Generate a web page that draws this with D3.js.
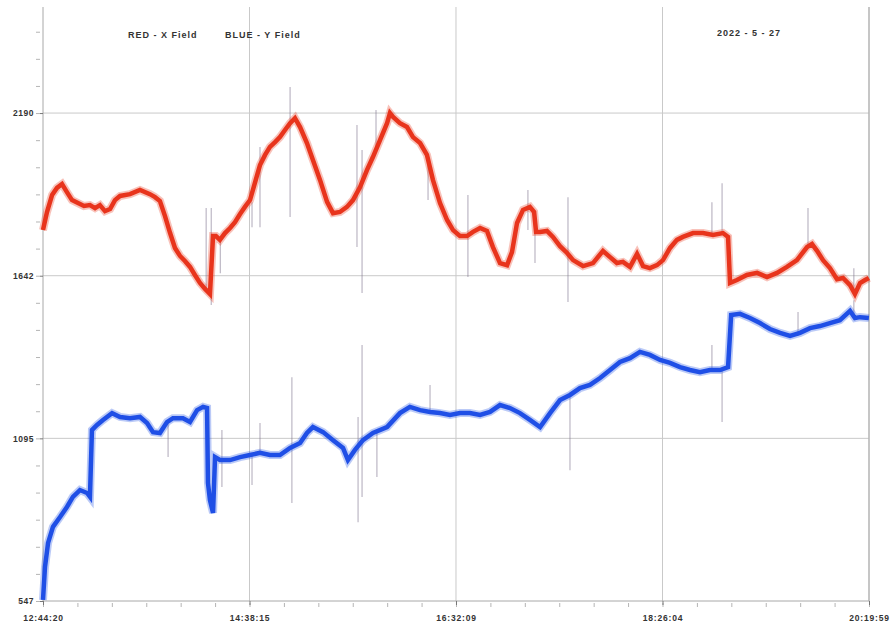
<!DOCTYPE html>
<html>
<head>
<meta charset="utf-8">
<script src="https://cdn.jsdelivr.net/npm/d3@7"></script>
<style>
  html, body { margin: 0; padding: 0; background: #fff; }
  svg { display: block; }
</style>
</head>
<body>
<svg id="chart" width="894" height="631"></svg>
<script>
// ---------- DATA ----------
const xTickLabels = ["12:44:20", "14:38:15", "16:32:09", "18:26:04", "20:19:59"];
const yTickValues = [547.5, 1095, 1642.5, 2190];
const yTickLabels = ["547", "1095", "1642", "2190"];
const legendTexts = ["RED - X Field", "BLUE - Y Field"];
const dateText = "2022 - 5 - 27";

// [elapsed minutes since 12:44:20, value]
const redSeries = [
  [0,1796],[2.2,1857],[5.0,1914],[7.7,1938],[10.5,1951],[13.2,1924],[16.0,1897],[19.3,1887],
  [22.6,1877],[25.9,1880],[28.7,1870],[31.4,1880],[34.2,1860],[37.0,1867],[39.7,1897],[42.5,1911],
  [48.0,1917],[53.5,1931],[59.0,1917],[61.8,1907],[64.5,1894],[67.3,1843],[70.1,1786],[72.8,1736],
  [75.6,1709],[78.3,1692],[81.1,1672],[83.8,1645],[86.6,1618],[89.4,1598],[92.1,1581],[93.8,1776],
  [95.4,1776],[97.6,1763],[100.4,1786],[103.2,1803],[105.9,1823],[108.7,1850],[111.4,1874],[114.2,1897],
  [116.9,1955],[119.7,2015],[122.5,2049],[125.2,2076],[128.0,2092],[130.7,2109],[133.5,2133],[136.3,2156],
  [139.0,2173],[141.8,2143],[145.6,2089],[148.9,2032],[152.8,1965],[156.7,1891],[160.0,1853],[163.8,1857],
  [167.7,1874],[171.0,1897],[174.9,1941],[178.7,1998],[182.0,2042],[185.9,2099],[189.8,2156],[191.4,2190],
  [193.1,2177],[196.9,2156],[200.8,2143],[204.1,2109],[208.0,2089],[211.8,2049],[215.1,1965],[219.0,1887],
  [222.9,1830],[226.2,1796],[230.0,1776],[233.9,1776],[237.2,1790],[241.1,1803],[244.9,1793],[248.2,1739],
  [252.1,1685],[256.0,1678],[258.7,1722],[261.5,1820],[264.8,1864],[268.6,1874],[270.9,1857],[272.0,1790],
  [274.2,1790],[278.0,1793],[281.3,1773],[285.2,1742],[289.1,1719],[292.4,1695],[297.9,1675],[303.4,1685],
  [308.9,1726],[312.8,1705],[316.6,1685],[319.9,1689],[323.8,1672],[327.7,1716],[331.0,1675],[334.8,1668],
  [338.7,1678],[342.0,1695],[345.9,1736],[349.7,1763],[353.0,1773],[358.6,1786],[364.1,1786],[369.6,1780],
  [375.1,1786],[377.9,1773],[379.0,1618],[382.8,1628],[388.3,1645],[393.9,1652],[399.4,1638],[404.9,1652],
  [410.4,1672],[415.9,1695],[421.5,1739],[424.2,1749],[427.0,1726],[430.3,1695],[434.1,1668],[438.0,1631],
  [441.3,1635],[445.2,1611],[447.9,1581],[450.7,1618],[453.5,1628],[455.6,1635]
];

const blueSeries = [
  [0,551],[1.1,662],[2.8,743],[5.5,797],[9.4,830],[13.2,864],[16.5,898],[20.4,921],[24.3,911],[25.9,898],
  [27.0,1123],[29.8,1140],[33.1,1157],[38.1,1180],[42.5,1167],[48.0,1163],[53.5,1167],[57.4,1147],[60.7,1116],
  [64.5,1113],[68.4,1150],[71.7,1163],[77.2,1163],[81.1,1150],[85.0,1190],[88.3,1201],[90.5,1197],[91.0,945],
  [92.1,887],[93.8,844],[94.9,1032],[97.6,1022],[103.2,1022],[108.7,1032],[114.2,1039],[119.7,1046],[125.2,1039],
  [130.7,1039],[136.3,1063],[141.8,1079],[145.6,1113],[148.9,1133],[154.5,1116],[160.0,1089],[165.5,1063],
  [168.2,1022],[172.1,1056],[176.5,1089],[182.0,1113],[189.8,1133],[196.9,1180],[202.4,1201],[208.0,1190],
  [213.5,1184],[219.0,1180],[224.5,1174],[230.0,1180],[235.5,1180],[241.1,1174],[246.6,1184],[252.1,1207],
  [257.6,1197],[263.1,1180],[268.6,1157],[274.2,1133],[279.7,1180],[285.2,1224],[290.7,1241],[296.2,1264],
  [301.7,1275],[307.3,1298],[312.8,1325],[318.3,1352],[323.8,1365],[329.3,1386],[334.8,1376],[340.4,1359],
  [345.9,1349],[351.4,1335],[356.9,1325],[362.4,1318],[367.9,1325],[373.5,1325],[377.9,1335],[379.6,1510],
  [384.5,1514],[390.0,1500],[395.5,1483],[401.0,1463],[406.6,1450],[412.1,1440],[417.6,1450],[423.1,1466],
  [428.6,1473],[434.1,1483],[439.6,1493],[445.2,1524],[447.9,1500],[450.7,1503],[455.6,1500]
];

// [elapsed minutes, low value, high value]
const redSpikes = [
  [90.0,1590,1870],[92.8,1544,1870],[97.8,1651,1760],[115.3,1806,1890],[119.7,1806,2076],
  [136.3,1840,2278],[173.2,1739,2150],[176.0,1584,2066],[183.7,2066,2200],[212.4,1897,2049],
  [234.4,1638,1914],[267.5,1796,1931],[271.4,1685,1857],[289.6,1554,1907],[369.0,1780,1890],
  [374.6,1786,1954],[422.0,1739,1870],[447.3,1590,1668]
];
const blueSpikes = [
  [69.0,1032,1150],[98.7,931,1123],[115.3,938,1046],[119.7,1046,1147],[137.3,877,1301],
  [173.8,813,1167],[176.0,898,1409],[184.2,965,1113],[213.5,1184,1275],[290.7,988,1241],
  [369.0,1325,1409],[374.6,1150,1325],[416.5,1440,1520],[447.3,1500,1560]
];

// ---------- CHART ----------
const svg = d3.select("#chart");
const margin = { left: 43, right: 869, top: 7, bottom: 601 };
const fontFam = "Liberation Sans, Arial, sans-serif";

const parseT = d3.timeParse("%H:%M:%S");
const t0 = parseT(xTickLabels[0]);
const xTickMinutes = xTickLabels.map(s => (parseT(s) - t0) / 60000);

const x = d3.scaleLinear().domain([0, xTickMinutes[xTickMinutes.length - 1]]).range([margin.left, margin.right]);
const y = d3.scaleLinear().domain([547.5, 2547]).range([margin.bottom, margin.top]);

const gridColor = "#c9c9c9";
const axisColor = "#a8a8a8";

// horizontal grid
svg.append("g").selectAll("line").data(yTickValues.slice(1)).join("line")
  .attr("x1", margin.left).attr("x2", margin.right)
  .attr("y1", d => y(d)).attr("y2", d => y(d))
  .attr("stroke", gridColor).attr("stroke-width", 1);

// vertical grid
svg.append("g").selectAll("line").data(xTickMinutes.slice(1)).join("line")
  .attr("x1", d => x(d)).attr("x2", d => x(d))
  .attr("y1", margin.top).attr("y2", margin.bottom)
  .attr("stroke", gridColor).attr("stroke-width", 1);

// Axes
const minorY = d3.range(0, 23).map(i => 547.5 + i * 91.25).filter(v => v <= 2547);
const minorX = [];
for (let i = 0; i < xTickMinutes.length - 1; i++) {
  const a = xTickMinutes[i], b = xTickMinutes[i + 1];
  for (let k = 0; k < 6; k++) minorX.push(a + (b - a) * k / 6);
}
minorX.push(xTickMinutes[xTickMinutes.length - 1]);

const yAxisMinor = d3.axisLeft(y).tickValues(minorY).tickSize(4).tickFormat("");
const gYm = svg.append("g").attr("transform", `translate(${margin.left - 3},0)`).call(yAxisMinor);
gYm.select(".domain").remove();
gYm.selectAll(".tick line").attr("stroke", "#b5b5b5");

const yAxis = d3.axisLeft(y).tickValues(yTickValues).tickSize(3).tickPadding(6)
  .tickFormat((d, i) => yTickLabels[i]);
const gY = svg.append("g").attr("transform", `translate(${margin.left},0)`).call(yAxis);
gY.select(".domain").attr("stroke", axisColor).attr("d", `M0,${margin.top}V${margin.bottom}`);
gY.selectAll(".tick line").attr("stroke", "#777");
gY.selectAll(".tick text").attr("font-family", fontFam)
  .attr("font-size", "8.5px").attr("font-weight", "bold").attr("fill", "#333")
  .attr("letter-spacing", "0.5px");

const xAxisMinor = d3.axisBottom(x).tickValues(minorX).tickSize(4).tickFormat("");
const gXm = svg.append("g").attr("transform", `translate(0,${margin.bottom + 2})`).call(xAxisMinor);
gXm.select(".domain").remove();
gXm.selectAll(".tick line").attr("stroke", "#b5b5b5");

const xAxis = d3.axisBottom(x).tickValues(xTickMinutes).tickSize(4).tickPadding(10)
  .tickFormat((d, i) => xTickLabels[i]);
const gX = svg.append("g").attr("transform", `translate(0,${margin.bottom})`).call(xAxis);
gX.select(".domain").attr("stroke", axisColor).attr("d", `M${margin.left},0H${margin.right}`);
gX.selectAll(".tick line").attr("stroke", "#777");
gX.selectAll(".tick text").attr("font-family", fontFam)
  .attr("font-size", "8.5px").attr("font-weight", "bold").attr("fill", "#333")
  .attr("letter-spacing", "0.8px");

// right border
svg.append("line").attr("x1", margin.right).attr("x2", margin.right)
  .attr("y1", margin.top).attr("y2", margin.bottom)
  .attr("stroke", axisColor).attr("stroke-width", 1);

// ---------- Series ----------
const redColor = "#e8341c";
const blueColor = "#1f4fe6";

const line = d3.line().x(d => x(d[0])).y(d => y(d[1]));

function drawSeries(data, spikes, color) {
  const g = svg.append("g");
  g.selectAll("line.spike").data(spikes).join("line").attr("class", "spike")
    .attr("x1", d => x(d[0])).attr("x2", d => x(d[0]))
    .attr("y1", d => y(d[1])).attr("y2", d => y(d[2]))
    .attr("stroke", "#7a6f8a").attr("stroke-opacity", 0.55).attr("stroke-width", 1.1);
  g.append("path").datum(data).attr("d", line)
    .attr("fill", "none").attr("stroke", color).attr("stroke-opacity", 0.3)
    .attr("stroke-width", 8).attr("stroke-linejoin", "miter");
  g.append("path").datum(data).attr("d", line)
    .attr("fill", "none").attr("stroke", color)
    .attr("stroke-width", 4.5).attr("stroke-linejoin", "miter");
}
drawSeries(redSeries, redSpikes, redColor);
drawSeries(blueSeries, blueSpikes, blueColor);

// ---------- Texts ----------
const txt = (s, xx, yy, anchor) => svg.append("text").text(s)
  .attr("x", xx).attr("y", yy).attr("text-anchor", anchor || "start")
  .attr("font-family", fontFam).attr("letter-spacing", "1px")
  .attr("font-size", "9px").attr("font-weight", "bold").attr("fill", "#333");
txt(legendTexts[0], 128, 38);
txt(legendTexts[1], 225, 38);
txt(dateText, 717, 36);
</script>
</body>
</html>
